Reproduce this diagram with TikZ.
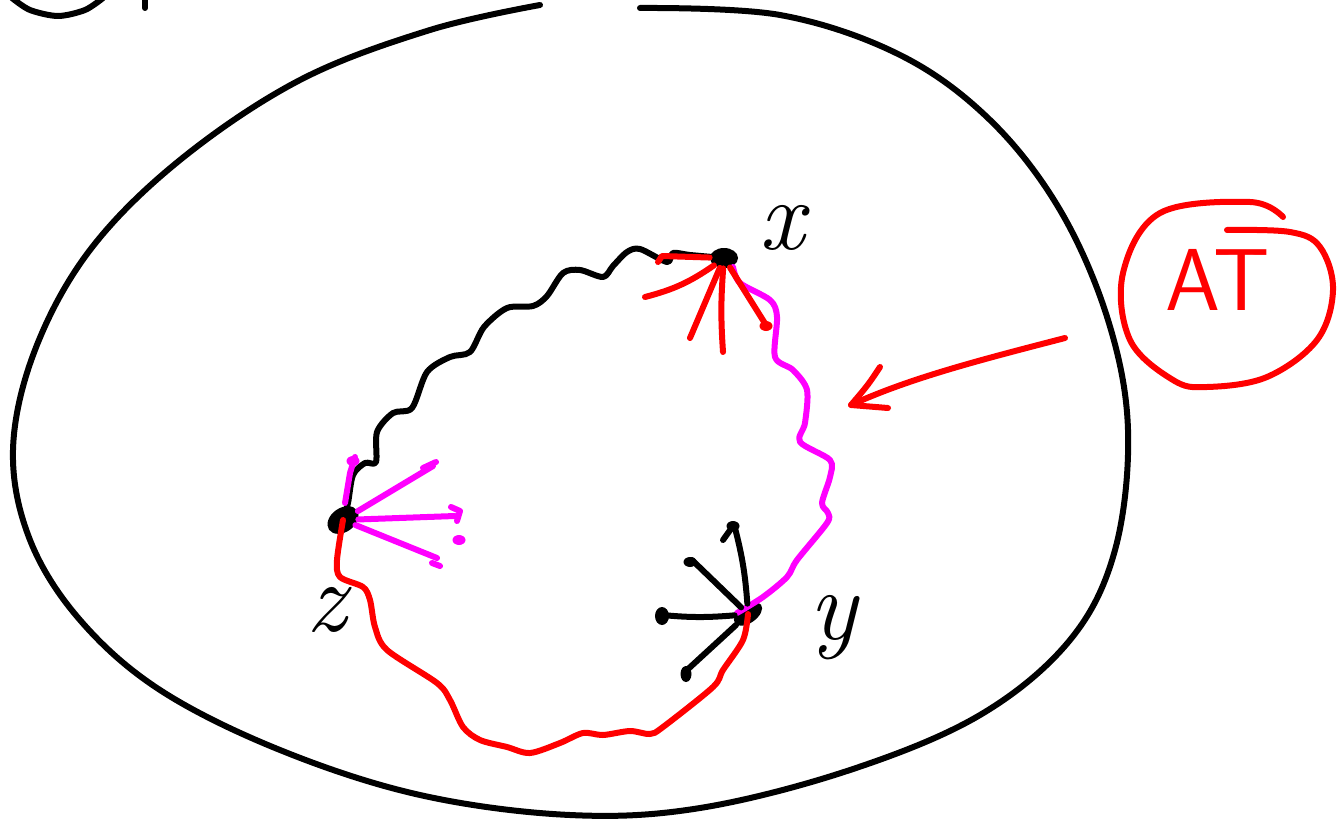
\documentclass[tikz,border=0pt]{standalone}
\usepackage{tikz}
\usetikzlibrary{shapes.geometric}
\definecolor{pathred}{HTML}{FF0000}
\definecolor{pathpink}{HTML}{FF00FF}

\begin{document}
\begin{tikzpicture}[x=0.5pt, y=-0.5pt,
  pen/.style={line width=3pt, line cap=round, line join=round},
  blob/.style={ellipse, fill=black, inner sep=0pt, minimum width=14pt, minimum height=10pt},
  tipdot/.style={ellipse, fill=#1, inner sep=0pt, minimum width=6.5pt, minimum height=5pt},
  lbl/.style={font=\fontsize{50}{50}\selectfont\itshape},
]
  \useasboundingbox (0,0) rectangle (1342,824);

  % outer region and the cut-off bits at the top
  \draw[pen] plot[smooth, tension=0.6] coordinates {(640,8) (780,15) (900,55) (990,120) (1060,210) (1108,320) (1128,430) (1115,550) (1070,640) (980,715) (850,770) (700,808) (570,815) (420,795) (280,750) (160,690) (80,620) (30,540) (13,450) (35,350) (90,250) (180,160) (300,80) (430,30) (540,5)};
  \draw[pen] plot[smooth] coordinates {(12,-2) (30,10) (58,16) (85,10) (103,-2)};
  \draw[pen] (145,-2) -- (145,8);

  % the three points
  \node[blob] (x) at (724,258) {};
  \node[blob, minimum width=17pt, minimum height=12pt, rotate=35] (z) at (343,520) {};
  \node[blob, minimum width=16pt, minimum height=9pt, rotate=35] (y) at (748,614) {};

  \node[lbl] (xl) at (782,228) {x};
  \node[lbl] (yl) at (833,628) {y};
  \node[lbl] (zl) at (326,610) {z};

  % z -- x (black)
  \draw[pen] plot[smooth, tension=0.5] coordinates {(z.center) (348,503) (353,475) (365,463) (376,462) (377,432) (393,413) (412,408) (427,372) (450,357) (470,352) (484,327) (507,308) (533,306) (547,296) (563,273) (580,270) (603,277) (613,266) (627,252) (640,249) (667,262) (673,253) (690,255) (x.center)};

  % z -- y (red)
  \draw[pen, pathred] plot[smooth, tension=0.5] coordinates {(z.center) (337,560) (340,577) (363,587) (370,600) (375,627) (387,650) (437,683) (450,700) (463,727) (480,740) (507,747) (530,753) (560,743) (583,733) (603,735) (630,731) (650,734) (663,727) (713,687) (723,670) (743,640) (y.center)};

  % x -- y (magenta)
  \draw[pen, pathpink] plot[smooth, tension=0.5] coordinates {(733,267) (740,283) (770,300) (777,317) (775,357) (793,370) (807,390) (805,423) (800,442) (830,460) (830,477) (822,503) (828,513) (827,523) (797,560) (787,577) (763,597) (737,613)};

  % rays at z
  \draw[pen, pathpink] (355,457) -- (350,473) -- (345,503);
  \node[tipdot=pathpink] (zd) at (353,461) {};
  \draw[pen, pathpink] (z) -- (433,466);
  \draw[pen, pathpink] (423,468) -- (436,462);
  \draw[pen, pathpink] (z) -- (455,516);
  \draw[pen, pathpink] (451,507) -- (460,511) -- (457,521);
  \draw[pen, pathpink] (z) -- (437,558);
  \draw[pen, pathpink] (432,563) -- (440,566);
  \node[tipdot=pathpink] (zp) at (459,540) {};

  % rays at x
  \draw[pen, pathred] (x) -- (662,256) -- (658,262);
  \draw[pen, pathred] (x) to[bend left=10] (645,297);
  \draw[pen, pathred] (x) -- (690,338);
  \draw[pen, pathred] (x) to[bend right=4] (723,352);
  \draw[pen, pathred] (x) -- (766,325);
  \node[tipdot=pathred] (xr) at (766,326) {};

  % rays at y
  \draw[pen] (y) to[bend right=5] (735,528);
  \node[tipdot=black] (y1) at (733,526) {};
  \draw[pen] (733,526) -- (723,540);
  \draw[pen] (y) -- (692,560);
  \node[tipdot=black] (y2) at (690,562) {};
  \draw[pen] (y) to[bend left=5] (662,615);
  \node[tipdot=black, minimum width=7pt, minimum height=9pt] (y3) at (662,616) {};
  \draw[pen] (y) -- (687,670);
  \node[tipdot=black, minimum width=5.5pt, minimum height=8pt] (y4) at (686,674) {};

  % AT and its arrow
  \node[text=pathred, font=\fontsize{44}{44}\selectfont\sffamily] (at) at (1218,280) {AT};
  \draw[pen, pathred] plot[smooth, tension=0.6] coordinates {(1283,217) (1250,202) (1160,213) (1123,273) (1130,340) (1173,380) (1207,387) (1267,377) (1317,340) (1333,290) (1320,247) (1290,232) (1227,230)};
  \coordinate (tail) at (1065,338);
  \coordinate (head) at (851,405);
  \draw[pen, pathred] (tail) .. controls (980,360) and (910,378) .. (head);
  \draw[pen, pathred] (880,367) .. controls (868,385) .. (head) -- (888,408);
\end{tikzpicture}
\end{document}
